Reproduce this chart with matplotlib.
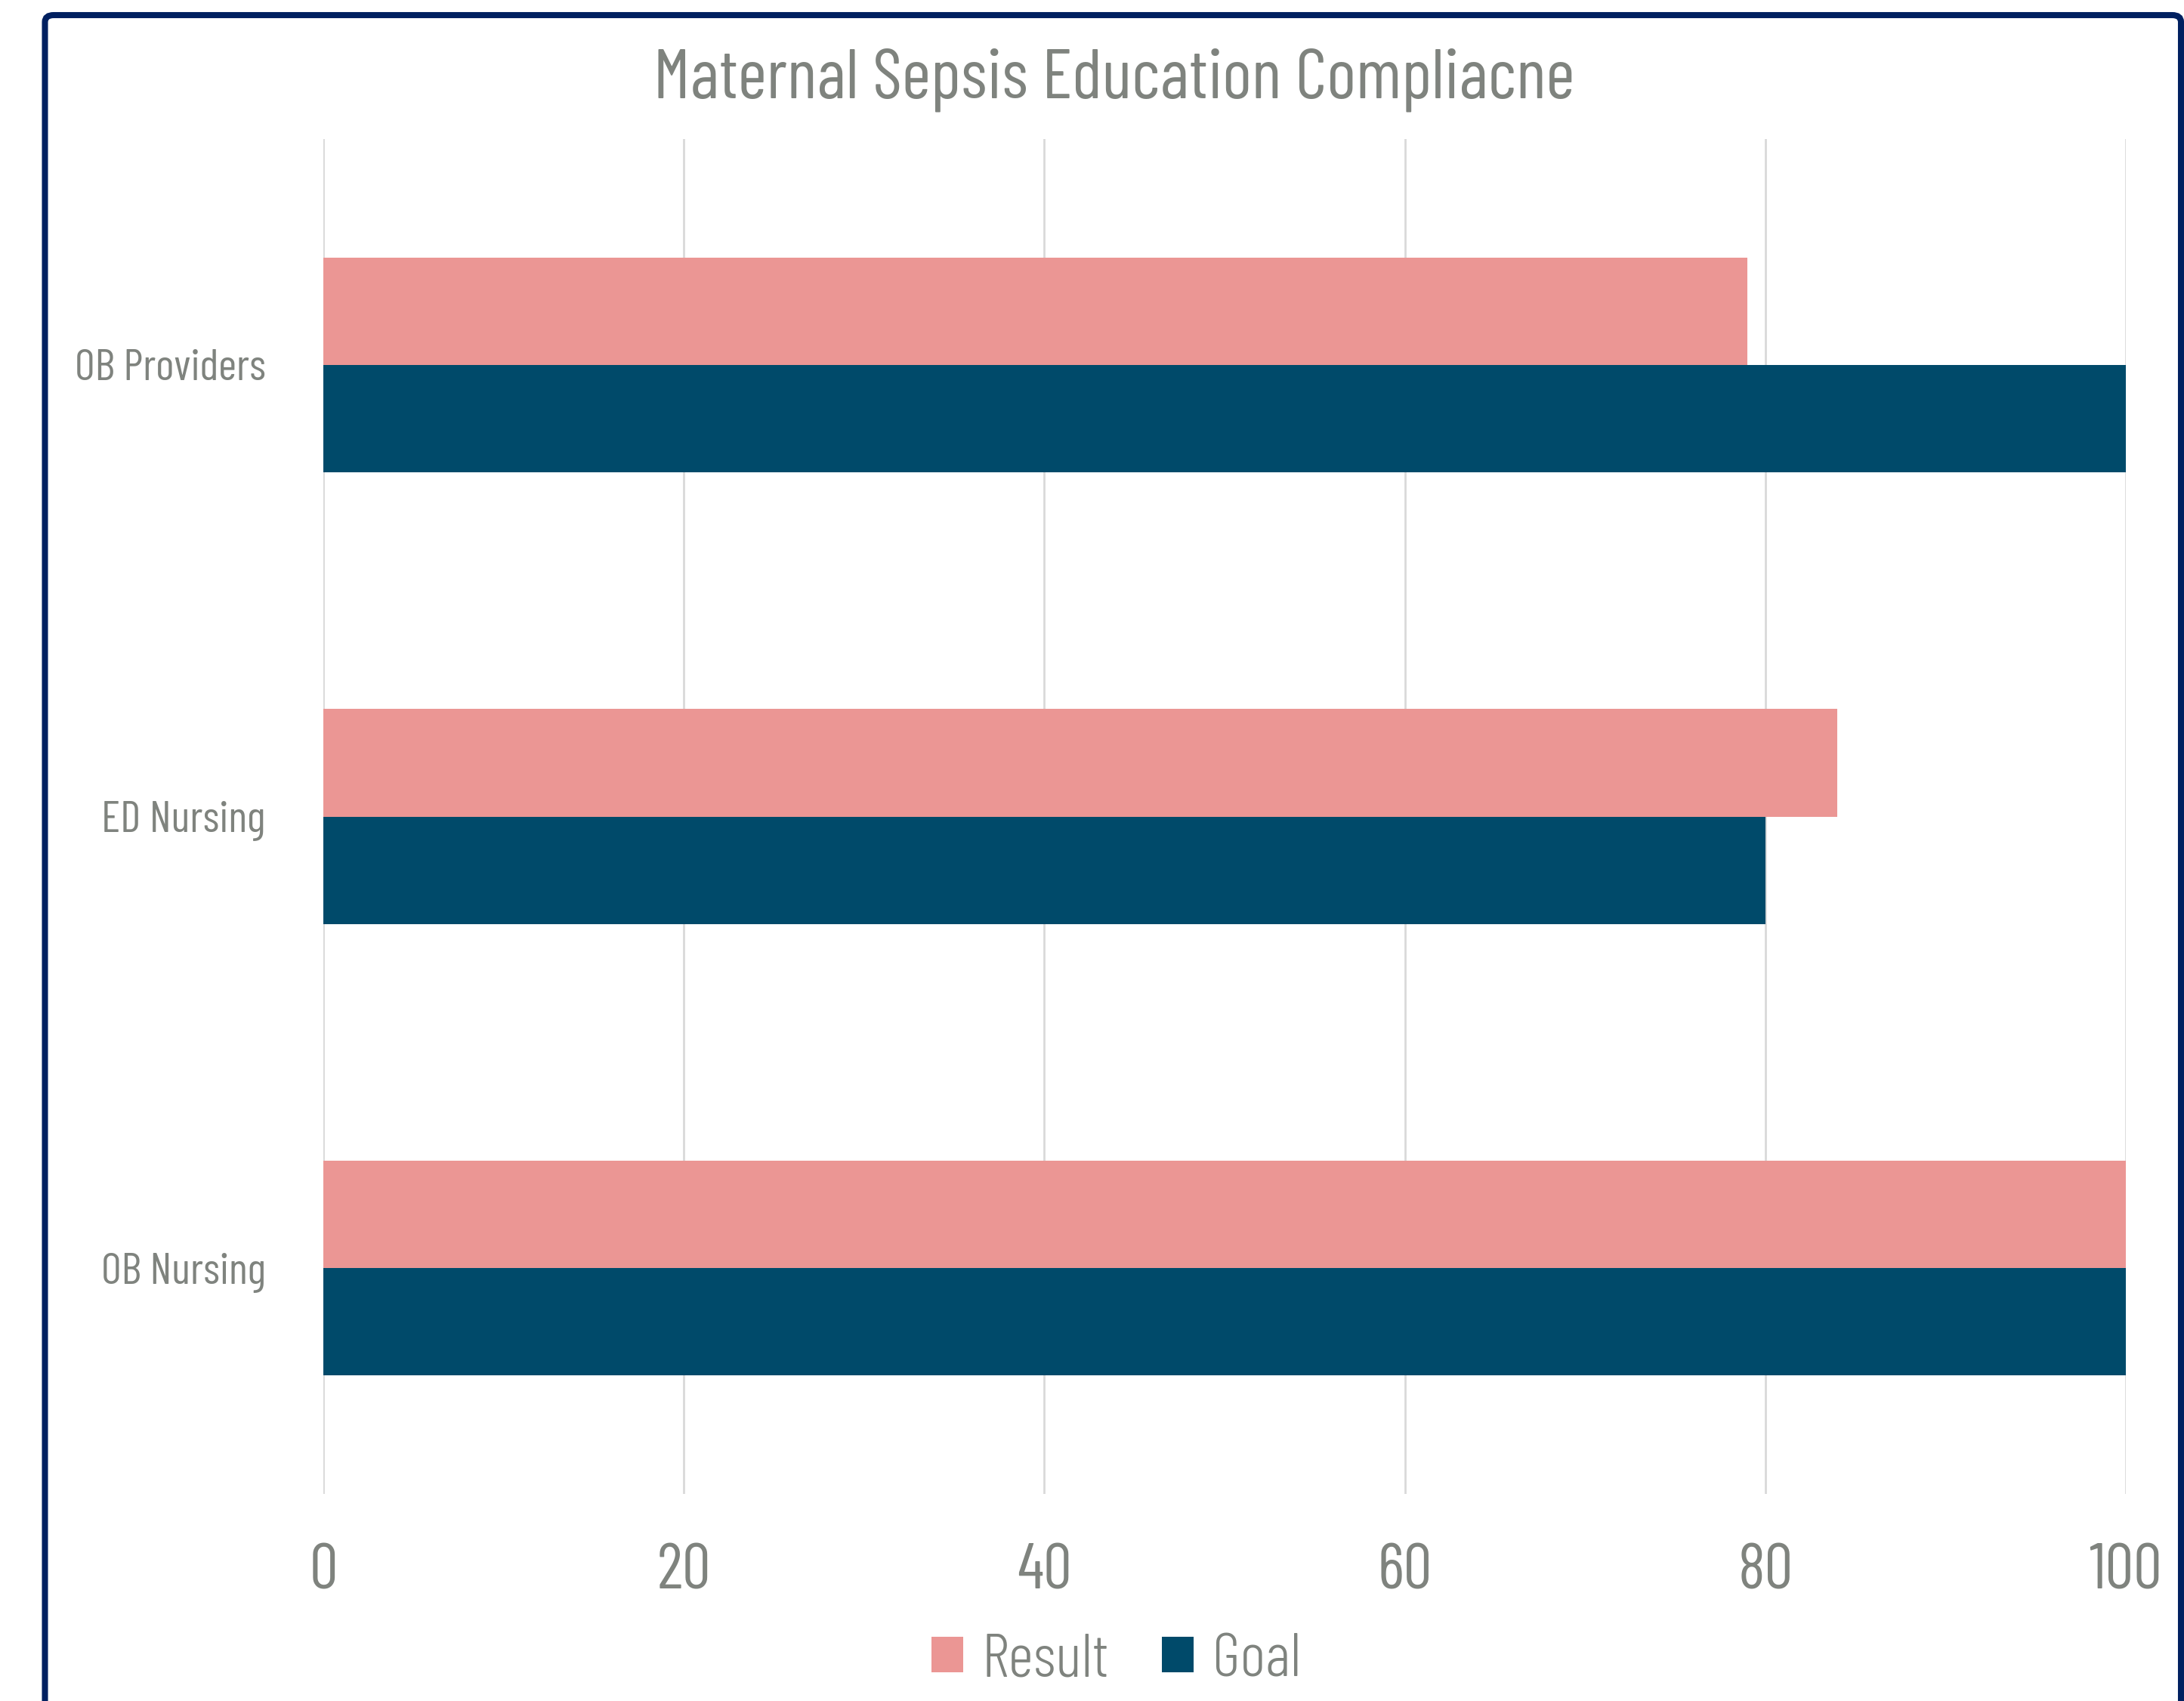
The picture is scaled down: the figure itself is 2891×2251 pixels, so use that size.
import numpy as np
import matplotlib
matplotlib.use("Agg")
import matplotlib.pyplot as plt
from matplotlib.patches import FancyBboxPatch, Patch

# data (bottom to top on the chart)
categories = ["OB Nursing", "ED Nursing", "OB Providers"]
result = [100, 84, 79]
goal = [100, 80, 100]
ticks = [0, 20, 40, 60, 80, 100]

pink = "#EB9694"
navy = "#004A6A"
grey = "#7F837E"
frame = "#002060"

plt.rcParams['font.family'] = ['Barlow Condensed', 'DejaVu Sans']

fig = plt.figure(figsize=(28.91, 22.51), dpi=100)
ax = fig.add_axes([428 / 2891, 1 - 1977 / 2251, 2386 / 2891, 1793 / 2251])

y = np.arange(len(categories))
h = 0.238
ax.barh(y + h / 2, result, height=h, color=pink, label="Result", zorder=3)
ax.barh(y - h / 2, goal, height=h, color=navy, label="Goal", zorder=3)

ax.set_xlim(0, 100)
ax.set_ylim(-0.5, len(categories) - 0.5)
ax.set_xticks(ticks)
ax.set_xticklabels([str(t) for t in ticks], fontsize=61, color=grey)
ax.set_yticks(y)
ax.set_yticklabels(categories, fontsize=42, color=grey)
ax.tick_params(axis='x', length=0, pad=47)
ax.tick_params(axis='y', length=0, pad=55)
ax.grid(axis='x', color="#D9D9D9", linewidth=2, zorder=0)
for s in ax.spines.values():
    s.set_visible(False)

fig.text(0.51, 1 - 130 / 2251, "Maternal Sepsis Education Compliacne",
         ha='center', va='baseline', fontsize=67, color=grey)

handles = [Patch(facecolor=pink, label="Result"), Patch(facecolor=navy, label="Goal")]
leg = fig.legend(handles=handles, loc='center', bbox_to_anchor=(0.511, 1 - 2198 / 2251),
                 ncol=2, frameon=False, handlelength=0.52, handleheight=0.52,
                 handletextpad=0.3, columnspacing=0.85,
                 prop={'family': 'Barlow Condensed', 'size': 59, 'weight': 300})
for t in leg.get_texts():
    t.set_color(grey)

# outer frame, bottom edge runs off the picture
border = FancyBboxPatch((59.5 / 2891, -0.05), (2887 - 59.5) / 2891, 1 - 20 / 2251 + 0.05,
                        boxstyle="round,pad=0,rounding_size=0.004",
                        transform=fig.transFigure, fill=False,
                        edgecolor=frame, linewidth=5.8, clip_on=False)
fig.patches.append(border)

fig.savefig("out.png", dpi=100, facecolor="white")
